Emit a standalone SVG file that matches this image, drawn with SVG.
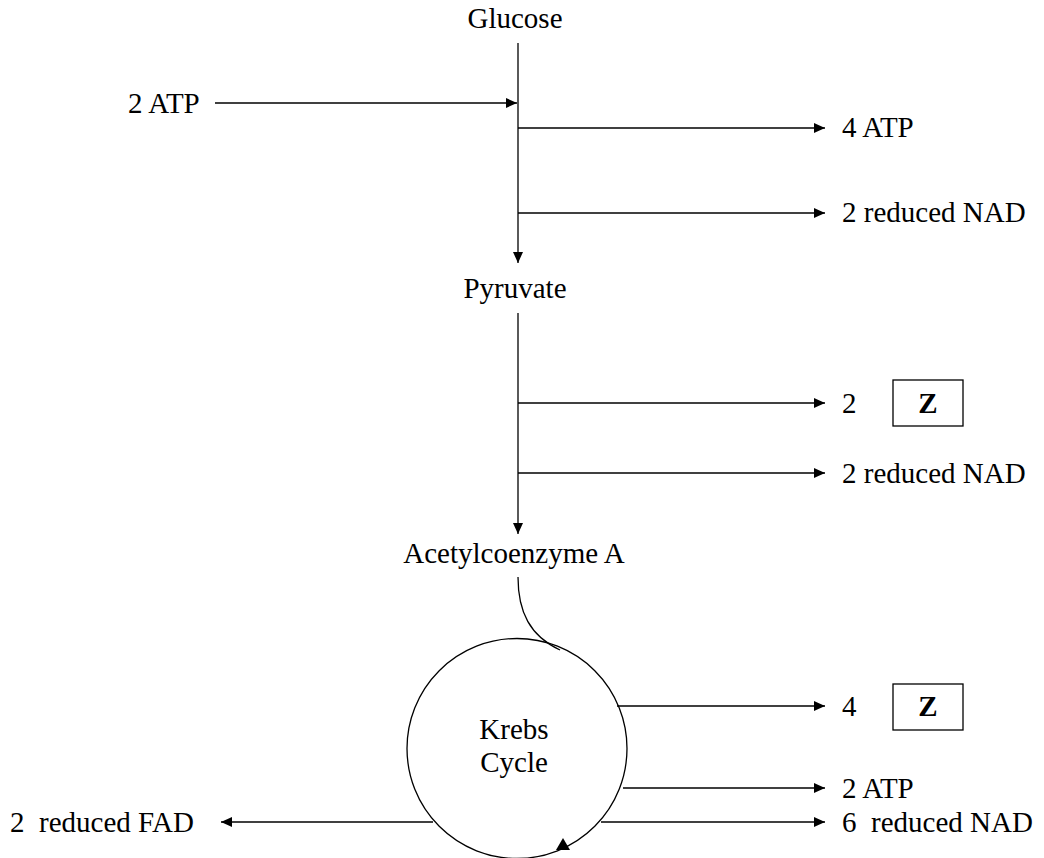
<svg xmlns="http://www.w3.org/2000/svg" width="1044" height="858" viewBox="0 0 1044 858">
<style>
text{font-family:"Liberation Serif","Times New Roman",serif;font-size:29px;fill:#000;white-space:pre}
.c{text-anchor:middle}
.b{font-weight:bold}
.ln{stroke:#000;stroke-width:1.3;fill:none}
.box{stroke:#000;stroke-width:1.3;fill:#fff}
</style>
<defs>
<marker id="ah" viewBox="0 0 11 10" refX="11" refY="5" markerWidth="11" markerHeight="10" markerUnits="userSpaceOnUse" orient="auto">
<path d="M0,0 L11,5 L0,10 Z" fill="#000"/>
</marker>
</defs>
<rect width="1044" height="858" fill="#fff"/>
<g id="connectors">
<line class="ln" x1="518" y1="43" x2="518" y2="263" marker-end="url(#ah)"/>
<line class="ln" x1="215" y1="103" x2="517" y2="103" marker-end="url(#ah)"/>
<line class="ln" x1="518" y1="128" x2="825" y2="128" marker-end="url(#ah)"/>
<line class="ln" x1="518" y1="213" x2="825" y2="213" marker-end="url(#ah)"/>
<line class="ln" x1="518" y1="313" x2="518" y2="534" marker-end="url(#ah)"/>
<line class="ln" x1="518" y1="403" x2="825" y2="403" marker-end="url(#ah)"/>
<line class="ln" x1="518" y1="473" x2="825" y2="473" marker-end="url(#ah)"/>
<path class="ln" d="M518,577 C518,612 530,636 560,650"/>
<line class="ln" x1="617" y1="706" x2="825" y2="706" marker-end="url(#ah)"/>
<line class="ln" x1="623" y1="788" x2="825" y2="788" marker-end="url(#ah)"/>
<line class="ln" x1="601" y1="822" x2="825" y2="822" marker-end="url(#ah)"/>
<line class="ln" x1="433" y1="822" x2="221" y2="822" marker-end="url(#ah)"/>
<path d="M563,838 L570,850 L556,850 Z" fill="#000"/>
</g>
<g id="glucose"><text class="c" x="515" y="28">Glucose</text></g>
<g id="atp-in"><text x="128" y="113">2 ATP</text></g>
<g id="atp-out1"><text x="842" y="137">4 ATP</text></g>
<g id="nad-out1"><text x="842" y="222">2 reduced NAD</text></g>
<g id="pyruvate"><text class="c" x="515" y="298">Pyruvate</text></g>
<g id="z-out1"><text x="842" y="413">2</text><rect class="box" x="893" y="380" width="70" height="46"/><text class="c b" x="928" y="413">Z</text></g>
<g id="nad-out2"><text x="842" y="483">2 reduced NAD</text></g>
<g id="acetyl"><text class="c" x="514" y="563">Acetylcoenzyme A</text></g>
<g id="krebs"><circle class="ln" cx="517" cy="748.5" r="110"/><text class="c" x="514" y="739">Krebs</text><text class="c" x="514" y="772">Cycle</text></g>
<g id="z-out2"><text x="842" y="716">4</text><rect class="box" x="893" y="684" width="70" height="46"/><text class="c b" x="928" y="716">Z</text></g>
<g id="atp-out2"><text x="842" y="798">2 ATP</text></g>
<g id="nad-out3"><text x="842" y="832">6  reduced NAD</text></g>
<g id="fad-out"><text x="10" y="832">2  reduced FAD</text></g>
</svg>
